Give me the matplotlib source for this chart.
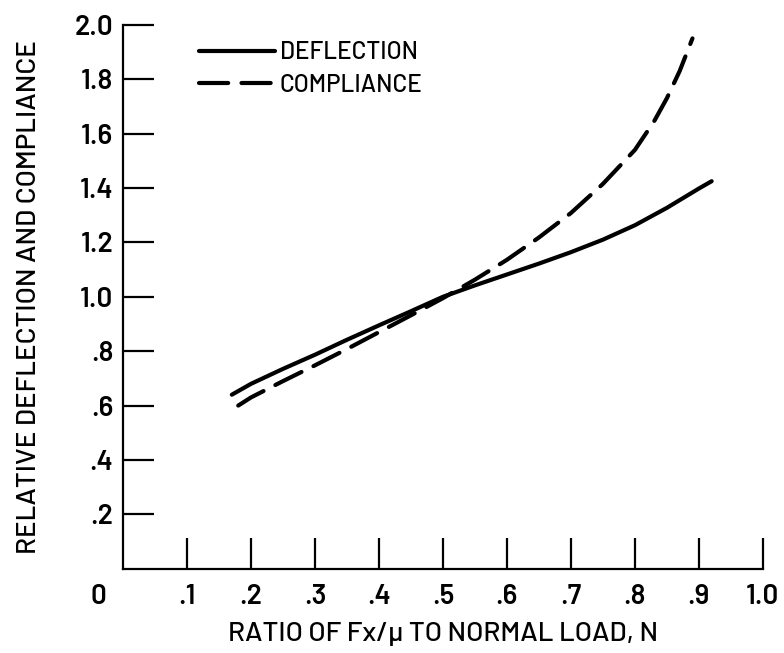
"""Relative deflection and compliance vs. ratio of Fx/mu to normal load."""
import matplotlib
matplotlib.use("Agg")
import matplotlib.pyplot as plt

# Data
defl_x = [0.17, 0.20, 0.25, 0.30, 0.35, 0.40, 0.45, 0.50, 0.55, 0.60, 0.65, 0.70, 0.75, 0.80, 0.85, 0.90, 0.92]
defl_y = [0.64, 0.68, 0.735, 0.787, 0.842, 0.895, 0.947, 1.00, 1.042, 1.082, 1.122, 1.164, 1.21, 1.263, 1.327, 1.398, 1.425]

comp_x = [0.18, 0.20, 0.25, 0.30, 0.35, 0.40, 0.45, 0.50, 0.55, 0.60, 0.65, 0.70, 0.75, 0.80, 0.83, 0.85, 0.87, 0.89]
comp_y = [0.60, 0.63, 0.69, 0.748, 0.808, 0.87, 0.932, 0.995, 1.063, 1.136, 1.218, 1.308, 1.415, 1.54, 1.645, 1.73, 1.83, 1.95]

x_ticks = [0.1, 0.2, 0.3, 0.4, 0.5, 0.6, 0.7, 0.8, 0.9, 1.0]
x_tick_labels = [".1", ".2", ".3", ".4", ".5", ".6", ".7", ".8", ".9", "1.0"]
y_ticks = [0.2, 0.4, 0.6, 0.8, 1.0, 1.2, 1.4, 1.6, 1.8, 2.0]
y_tick_labels = [".2", ".4", ".6", ".8", "1.0", "1.2", "1.4", "1.6", "1.8", "2.0"]

plt.rcParams['font.family'] = ['Barlow', 'DejaVu Sans']
plt.rcParams['font.weight'] = 600
plt.rcParams['axes.labelweight'] = 500

fig = plt.figure(figsize=(7.84, 6.53), dpi=100)
ax = fig.add_axes([0.157, 0.129, 0.816, 0.833])

ax.plot(defl_x, defl_y, color='black', lw=3, solid_capstyle='round', label='DEFLECTION')
ax.plot(comp_x, comp_y, color='black', lw=3, dashes=(7, 3.2), dash_capstyle='round',
        label='COMPLIANCE')

ax.set_xlim(0, 1.0)
ax.set_ylim(0, 2.0)
ax.set_xticks(x_ticks)
ax.set_xticklabels(x_tick_labels)
ax.set_yticks(y_ticks)
ax.set_yticklabels(y_tick_labels)

for side in ['top', 'right']:
    ax.spines[side].set_visible(False)
for side in ['left', 'bottom']:
    ax.spines[side].set_linewidth(1.6)

ax.tick_params(axis='both', direction='in', length=22, width=1.6, labelsize=20, pad=7)
ax.tick_params(axis='x', pad=11)

# origin label sits left of the spine, on the x label row
ax.annotate("0", xy=(0, 0), xytext=(-18, -11), textcoords='offset points',
            ha='center', va='top', fontsize=20, fontweight=600)

ax.set_xlabel("RATIO OF Fx/\u03bc TO NORMAL LOAD, N", fontsize=20, labelpad=9)
ax.set_ylabel("RELATIVE DEFLECTION AND COMPLIANCE", fontsize=20, labelpad=24)

ax.legend(loc='upper left', bbox_to_anchor=(0.085, 1.01), frameon=False,
          prop={'size': 17.5, 'weight': 500},
          handlelength=3.1, handletextpad=0.2, labelspacing=0.4)

plt.savefig("out.png", dpi=100)
plt.close()
